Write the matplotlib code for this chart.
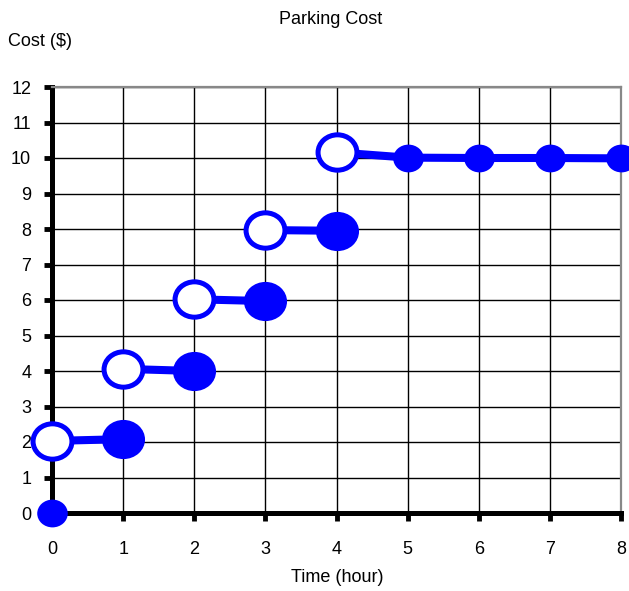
import numpy as np
import matplotlib
matplotlib.use("Agg")
import matplotlib.pyplot as plt
from matplotlib.path import Path
from matplotlib.transforms import Affine2D

plt.rcParams['font.family'] = ['Liberation Sans', 'DejaVu Sans']

# === Data ===
hours = [0, 1, 2, 3, 4, 5, 6, 7, 8]
# open circles (start of each step, not included)
open_x = [0, 1, 2, 3, 4]
open_y = [2.03, 4.06, 6.02, 7.97, 10.16]
# filled circles (end of each step, included)
filled_x = [0, 1, 2, 3, 4, 5, 6, 7, 8]
filled_y = [0.0, 2.08, 4.0, 5.97, 7.95, 10.01, 10.0, 10.0, 9.99]
# which filled points are drawn big
big_filled = [False, True, True, True, True, False, False, False, False]
cost_ticks = list(range(0, 13))

# slightly wide circle marker, like the original drawing
oval = Path.unit_circle().transformed(Affine2D().scale(1.1, 1.0))

blue = '#0000ff'

fig = plt.figure(figsize=(6.29, 5.91), dpi=100)
ax = fig.add_axes([52 / 629, 78 / 591, 569 / 629, 426 / 591])

ax.set_xlim(0, 8)
ax.set_ylim(0, 12)
ax.set_xticks(hours)
ax.set_yticks(cost_ticks)
ax.grid(True, color='black', linewidth=1.0, zorder=0)
ax.set_axisbelow(True)

for side in ['top', 'right']:
    ax.spines[side].set_color('#888888')
    ax.spines[side].set_linewidth(1.6)
for side in ['left', 'bottom']:
    ax.spines[side].set_color('black')
    ax.spines[side].set_linewidth(3.6)

ax.tick_params(axis='both', direction='out', length=6, width=3.5,
               labelsize=13, color='black')
ax.tick_params(axis='y', pad=9)
ax.tick_params(axis='x', pad=14)

# === steps: segment from open circle to the next filled circle ===
segments = []
for i in range(4):
    segments.append(([open_x[i], filled_x[i + 1]], [open_y[i], filled_y[i + 1]]))
segments.append(([open_x[4]] + filled_x[5:], [open_y[4]] + filled_y[5:]))
for sx, sy in segments:
    ax.plot(sx, sy, color=blue, linewidth=5.8, solid_capstyle='butt',
            zorder=3, clip_on=False)

# filled circles
for x, y, big in zip(filled_x, filled_y, big_filled):
    ax.plot([x], [y], marker=oval, markersize=31 if big else 22,
            color=blue, markeredgewidth=0, linestyle='none',
            zorder=4, clip_on=False)

# open circles
ax.plot(open_x, open_y, marker=oval, markersize=28, markerfacecolor='white',
        markeredgecolor=blue, markeredgewidth=3.6, linestyle='none',
        zorder=5, clip_on=False)

fig.text(331 / 629, 1 - 20 / 591, 'Parking Cost', ha='center', va='center', fontsize=13)
fig.text(8 / 629, 1 - 42 / 591, 'Cost ($)', ha='left', va='center', fontsize=13)
fig.text(337 / 629, 1 - 578 / 591, 'Time (hour)', ha='center', va='center', fontsize=13)

fig.savefig('out.png', dpi=100)
